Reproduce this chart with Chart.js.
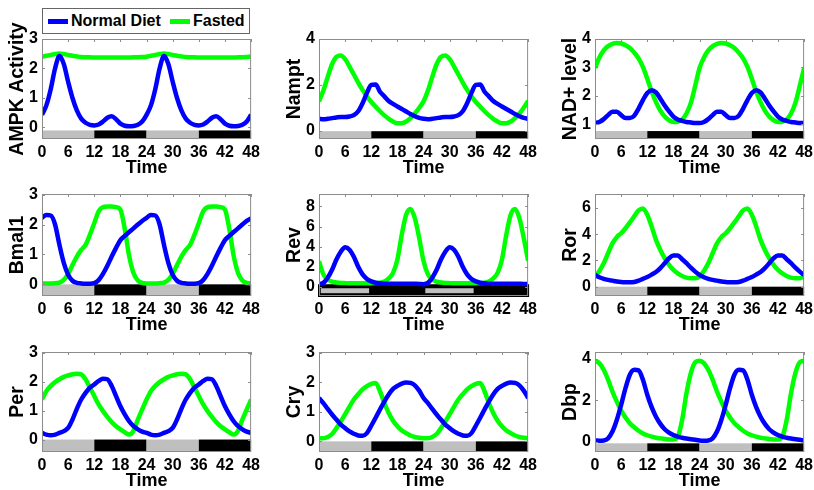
<!DOCTYPE html>
<html>
<head>
<meta charset="utf-8">
<script src="https://cdn.jsdelivr.net/npm/chart.js@4.4.1/dist/chart.umd.min.js"></script>
<style>
body { margin: 0; background: #fff; }
#wrap { position: relative; width: 814px; height: 490px; overflow: hidden; }
#wrap canvas { position: absolute; }
#legend { position: absolute; left: 42px; top: 8px; width: 208px; height: 26px; box-sizing: border-box;
  border: 1px solid #666; background: #fff; z-index: 2;
  font: bold 16px "Liberation Sans", Arial, sans-serif; color: #000; }
#legend .sw { position: absolute; top: 10px; width: 20px; height: 5px; }
#legend .tx { position: absolute; top: 3px; line-height: 18px; }
</style>
</head>
<body>
<div id="wrap">
  <div id="legend">
    <span class="sw" style="left:5px;background:#0000ff"></span><span class="tx" style="left:28px">Normal Diet</span>
    <span class="sw" style="left:127px;background:#00ff00"></span><span class="tx" style="left:150px">Fasted</span>
  </div>
</div>
<script>
// time axis (hours) and tick labels
var hours = [0,1,2,3,4,5,6,7,8,9,10,11,12,13,14,15,16,17,18,19,20,21,22,23,24,
  25,26,27,28,29,30,31,32,33,34,35,36,37,38,39,40,41,42,43,44,45,46,47,48];
var xTicks = [0,6,12,18,24,30,36,42,48];

// light / dark phases shown in the bar under each plot
var phaseStart = [0,12,24,36];
var phaseEnd = [12,24,36,48];
var phaseDark = [false,true,false,true];

// values (Normal Diet = blue, Fasted = green)
var ampkNormal = [0.43,0.75,1.3,2.0,2.42,2.15,1.55,1.0,0.58,0.3,0.16,0.09,0.07,0.1,0.2,0.33,0.38,0.28,0.13,0.06,0.04,0.05,0.09,0.2,
  0.43,0.75,1.3,2.0,2.42,2.15,1.55,1.0,0.58,0.3,0.16,0.09,0.07,0.1,0.2,0.33,0.38,0.28,0.13,0.06,0.04,0.05,0.09,0.2,0.43];
var ampkFasted = [2.40,2.43,2.46,2.49,2.51,2.49,2.46,2.43,2.41,2.39,2.38,2.38,2.37,2.37,2.37,2.37,2.37,2.37,2.37,2.37,2.37,2.38,2.38,2.39,
  2.40,2.43,2.46,2.49,2.51,2.49,2.46,2.43,2.41,2.39,2.38,2.38,2.37,2.37,2.37,2.37,2.37,2.37,2.37,2.37,2.37,2.38,2.38,2.39,2.40];
var namptNormal = [0.52,0.5,0.52,0.55,0.58,0.6,0.6,0.62,0.68,0.85,1.2,1.65,2.0,2.02,1.7,1.5,1.3,1.17,1.06,0.95,0.84,0.73,0.63,0.56,
  0.52,0.5,0.52,0.55,0.58,0.6,0.6,0.62,0.68,0.85,1.2,1.65,2.0,2.02,1.7,1.5,1.3,1.17,1.06,0.95,0.84,0.73,0.63,0.56,0.52];
var namptFasted = [1.28,1.75,2.35,2.9,3.22,3.28,3.12,2.8,2.45,2.1,1.78,1.5,1.25,1.05,0.85,0.67,0.52,0.4,0.33,0.33,0.4,0.55,0.75,1.0,
  1.28,1.75,2.35,2.9,3.22,3.28,3.12,2.8,2.45,2.1,1.78,1.5,1.25,1.05,0.85,0.67,0.52,0.4,0.33,0.33,0.4,0.55,0.75,1.0,1.3];
var nadNormal = [1.04,1.08,1.18,1.32,1.44,1.44,1.32,1.22,1.22,1.3,1.55,1.85,2.1,2.2,2.12,1.9,1.66,1.45,1.27,1.17,1.12,1.08,1.06,1.04,
  1.04,1.08,1.18,1.32,1.44,1.44,1.32,1.22,1.22,1.3,1.55,1.85,2.1,2.2,2.12,1.9,1.66,1.45,1.27,1.17,1.12,1.08,1.06,1.04,1.04];
var nadFasted = [2.98,3.35,3.6,3.75,3.83,3.86,3.84,3.78,3.68,3.52,3.32,3.02,2.6,2.15,1.78,1.48,1.27,1.14,1.08,1.09,1.17,1.38,1.75,2.35,
  2.98,3.35,3.6,3.75,3.83,3.86,3.84,3.78,3.68,3.52,3.32,3.02,2.6,2.15,1.78,1.48,1.27,1.14,1.08,1.09,1.17,1.38,1.75,2.35,2.98];
var bmalNormal = [2.22,2.32,2.3,2.0,1.32,0.72,0.32,0.12,0.05,0.03,0.02,0.02,0.04,0.14,0.35,0.62,0.93,1.22,1.48,1.62,1.75,1.87,2.0,2.12,
  2.22,2.32,2.3,2.0,1.32,0.72,0.32,0.12,0.05,0.03,0.02,0.02,0.04,0.14,0.35,0.62,0.93,1.22,1.48,1.62,1.75,1.87,2.0,2.12,2.2];
var bmalFasted = [0.03,0.03,0.03,0.04,0.06,0.15,0.35,0.65,0.93,1.15,1.32,1.66,2.05,2.44,2.58,2.6,2.6,2.58,2.5,1.85,0.95,0.38,0.13,0.05,
  0.03,0.03,0.03,0.04,0.06,0.15,0.35,0.65,0.93,1.15,1.32,1.66,2.05,2.44,2.58,2.6,2.6,2.58,2.5,1.85,0.95,0.38,0.13,0.05,0.03];
var revNormal = [0.28,0.4,0.92,1.7,2.73,3.5,3.95,3.7,3.0,2.0,1.25,0.8,0.55,0.42,0.36,0.33,0.32,0.32,0.32,0.32,0.32,0.32,0.31,0.3,
  0.28,0.4,0.92,1.7,2.73,3.5,3.95,3.7,3.0,2.0,1.25,0.8,0.55,0.42,0.36,0.33,0.32,0.32,0.32,0.32,0.32,0.32,0.31,0.3,0.28];
var revFasted = [2.57,1.25,0.75,0.52,0.45,0.4,0.38,0.37,0.37,0.37,0.37,0.37,0.37,0.38,0.42,0.55,0.85,1.4,2.73,5.2,7.17,7.75,6.84,4.87,
  2.57,1.25,0.75,0.52,0.45,0.4,0.38,0.37,0.37,0.37,0.37,0.37,0.37,0.38,0.42,0.55,0.85,1.4,2.73,5.2,7.17,7.75,6.84,4.87,2.6];
var rorNormal = [0.9,0.72,0.6,0.52,0.46,0.4,0.36,0.34,0.33,0.36,0.46,0.6,0.74,0.92,1.12,1.42,1.79,2.17,2.37,2.37,2.09,1.79,1.45,1.15,
  0.9,0.72,0.6,0.52,0.46,0.4,0.36,0.34,0.33,0.36,0.46,0.6,0.74,0.92,1.12,1.42,1.79,2.17,2.37,2.37,2.09,1.79,1.45,1.15,0.9];
var rorFasted = [0.77,1.2,1.79,2.55,3.3,3.78,4.08,4.46,4.9,5.36,5.82,5.97,5.48,4.6,3.57,2.8,2.17,1.66,1.28,1.02,0.82,0.69,0.64,0.65,
  0.77,1.2,1.79,2.55,3.3,3.78,4.08,4.46,4.9,5.36,5.82,5.97,5.48,4.6,3.57,2.8,2.17,1.66,1.28,1.02,0.82,0.69,0.64,0.65,0.77];
var perNormal = [0.23,0.17,0.15,0.17,0.23,0.29,0.4,0.69,1.06,1.38,1.61,1.79,1.9,2.02,2.1,2.08,1.85,1.5,1.15,0.87,0.63,0.46,0.35,0.27,
  0.23,0.17,0.15,0.17,0.23,0.29,0.4,0.69,1.06,1.38,1.61,1.79,1.9,2.02,2.1,2.08,1.85,1.5,1.15,0.87,0.63,0.46,0.35,0.27,0.23];
var perFasted = [1.38,1.67,1.85,1.98,2.08,2.16,2.21,2.25,2.27,2.25,2.08,1.79,1.5,1.21,0.98,0.78,0.6,0.46,0.35,0.25,0.17,0.3,0.69,1.04,
  1.38,1.67,1.85,1.98,2.08,2.16,2.21,2.25,2.27,2.25,2.08,1.79,1.5,1.21,0.98,0.78,0.6,0.46,0.35,0.25,0.17,0.3,0.69,1.04,1.38];
var cryNormal = [1.47,1.3,1.1,0.91,0.74,0.57,0.45,0.34,0.26,0.2,0.19,0.28,0.53,0.8,1.08,1.35,1.59,1.78,1.88,1.96,2.0,1.98,1.9,1.72,
  1.47,1.3,1.1,0.91,0.74,0.57,0.45,0.34,0.26,0.2,0.19,0.28,0.53,0.8,1.08,1.35,1.59,1.78,1.88,1.96,2.0,1.98,1.9,1.72,1.47];
var cryFasted = [0.11,0.11,0.15,0.25,0.45,0.67,0.92,1.18,1.42,1.6,1.76,1.87,1.95,1.98,1.7,1.3,0.96,0.7,0.51,0.37,0.28,0.2,0.15,0.12,
  0.11,0.11,0.15,0.25,0.45,0.67,0.92,1.18,1.42,1.6,1.76,1.87,1.95,1.98,1.7,1.3,0.96,0.7,0.51,0.37,0.28,0.2,0.15,0.12,0.11];
var dbpNormal = [0.06,0.05,0.06,0.16,0.49,1.05,1.78,2.59,3.24,3.48,3.45,3.0,2.27,1.67,1.21,0.86,0.6,0.44,0.32,0.24,0.19,0.15,0.12,0.09,
  0.06,0.05,0.06,0.16,0.49,1.05,1.78,2.59,3.24,3.48,3.45,3.0,2.27,1.67,1.21,0.86,0.6,0.44,0.32,0.24,0.19,0.15,0.12,0.09,0.06];
var dbpFasted = [3.92,3.8,3.48,3.0,2.43,1.94,1.5,1.17,0.89,0.7,0.53,0.4,0.31,0.24,0.19,0.16,0.13,0.11,0.1,0.24,1.05,2.35,3.32,3.84,
  3.92,3.8,3.48,3.0,2.43,1.94,1.5,1.17,0.89,0.7,0.53,0.4,0.31,0.24,0.19,0.16,0.13,0.11,0.1,0.24,1.05,2.35,3.32,3.84,3.92];

// y tick labels per panel
var ampkTicks = [0,1,2,3];
var namptTicks = [0,2,4];
var nadTicks = [1,2,3,4];
var bmalTicks = [0,1,2,3];
var revTicks = [0,2,4,6,8];
var rorTicks = [0,2,4,6];
var perTicks = [0,1,2,3];
var cryTicks = [0,1,2,3];
var dbpTicks = [0,2,4];

var FONT = '"Liberation Sans", Arial, sans-serif';
var colLeft = [42, 319, 595];
var rowTop = [39, 194, 352];
var rowBottom = [139, 296, 452];
var plotW = 210, yAxisW = 42, padTop = 22, padRight = 12, xAxisH = 38;

var panels = [
  { title: 'AMPK Activity', normal: ampkNormal, fasted: ampkFasted, ticks: ampkTicks, min: -0.39, max: 3, barTop: -0.1 },
  { title: 'Nampt', normal: namptNormal, fasted: namptFasted, ticks: namptTicks, min: -0.36, max: 4, barTop: -0.02 },
  { title: 'NAD+ level', normal: nadNormal, fasted: nadFasted, ticks: nadTicks, min: 0.48, max: 4, barTop: 0.76 },
  { title: 'Bmal1', normal: bmalNormal, fasted: bmalFasted, ticks: bmalTicks, min: -0.39, max: 3.02, barTop: 0 },
  { title: 'Rev', normal: revNormal, fasted: revFasted, ticks: revTicks, min: -0.9, max: 9.24, barTop: 0.27, framed: true },
  { title: 'Ror', normal: rorNormal, fasted: rorFasted, ticks: rorTicks, min: -0.71, max: 7.07, barTop: 0 },
  { title: 'Per', normal: perNormal, fasted: perFasted, ticks: perTicks, min: -0.43, max: 3.02, barTop: 0 },
  { title: 'Cry', normal: cryNormal, fasted: cryFasted, ticks: cryTicks, min: -0.36, max: 3.03, barTop: 0 },
  { title: 'Dbp', normal: dbpNormal, fasted: dbpFasted, ticks: dbpTicks, min: -0.5, max: 4.34, barTop: -0.08 }
];

function toXY(vals) {
  return vals.map(function (v, i) { return { x: hours[i], y: v }; });
}

var boxPlugin = {
  id: 'box',
  beforeDatasetsDraw: function (chart, args, opts) {
    var ctx = chart.ctx, xs = chart.scales.x, ys = chart.scales.y;
    var top = ys.getPixelForValue(opts.barTop), bottom = chart.chartArea.bottom;
    ctx.save();
    if (opts.framed) {
      // black band with light periods drawn as inset strips
      ctx.fillStyle = '#000';
      ctx.fillRect(xs.left - 1, top, xs.width + 2, bottom - top + 1);
      var gTop = ys.getPixelForValue(-0.13), gBot = ys.getPixelForValue(-0.62);
      ctx.fillStyle = '#bfbfbf';
      for (var j = 0; j < phaseStart.length; j++) {
        if (phaseDark[j]) continue;
        var a = xs.getPixelForValue(phaseStart[j] + 0.4), b = xs.getPixelForValue(phaseEnd[j] - 0.5);
        ctx.fillRect(a, gTop, b - a, gBot - gTop);
      }
    } else {
      for (var i = 0; i < phaseStart.length; i++) {
        var x0 = xs.getPixelForValue(phaseStart[i]), x1 = xs.getPixelForValue(phaseEnd[i]);
        ctx.fillStyle = phaseDark[i] ? '#000' : '#bfbfbf';
        ctx.fillRect(x0, top, x1 - x0, bottom - top);
      }
    }
    ctx.restore();
  },
  afterDraw: function (chart) {
    var ctx = chart.ctx, a = chart.chartArea, xs = chart.scales.x, ys = chart.scales.y;
    ctx.save();
    ctx.strokeStyle = '#8c8c8c';
    ctx.lineWidth = 1;
    ctx.strokeRect(a.left + 0.5, a.top + 0.5, a.right - a.left - 1, a.bottom - a.top - 1);
    ctx.beginPath();
    xs.ticks.forEach(function (t) {
      var px = Math.round(xs.getPixelForValue(t.value)) + 0.5;
      ctx.moveTo(px, a.top); ctx.lineTo(px, a.top + 3);
    });
    ys.ticks.forEach(function (t) {
      var py = Math.round(ys.getPixelForValue(t.value)) + 0.5;
      ctx.moveTo(a.left, py); ctx.lineTo(a.left + 3, py);
      ctx.moveTo(a.right, py); ctx.lineTo(a.right - 3, py);
    });
    ctx.stroke();
    ctx.restore();
  }
};

var wrap = document.getElementById('wrap');

panels.forEach(function (p, k) {
  var col = k % 3, row = Math.floor(k / 3);
  var plotH = rowBottom[row] - rowTop[row];
  var canvas = document.createElement('canvas');
  canvas.width = yAxisW + plotW + padRight;
  canvas.height = padTop + plotH + xAxisH;
  canvas.style.left = (colLeft[col] - yAxisW) + 'px';
  canvas.style.top = (rowTop[row] - padTop) + 'px';
  wrap.appendChild(canvas);

  new Chart(canvas, {
    type: 'line',
    data: {
      datasets: [
        { label: 'Normal Diet', data: toXY(p.normal), borderColor: '#0000ff', borderWidth: 4.5,
          pointRadius: 0, cubicInterpolationMode: 'monotone', fill: false },
        { label: 'Fasted', data: toXY(p.fasted), borderColor: '#00ff00', borderWidth: 4.5,
          pointRadius: 0, cubicInterpolationMode: 'monotone', fill: false }
      ]
    },
    options: {
      responsive: false,
      animation: false,
      devicePixelRatio: 1,
      layout: { padding: { top: padTop, right: padRight, left: 0, bottom: 0 } },
      plugins: {
        legend: { display: false },
        tooltip: { enabled: false },
        box: { barTop: p.barTop, framed: !!p.framed }
      },
      scales: {
        x: {
          type: 'linear', min: 0, max: 48,
          grid: { display: false, drawTicks: false },
          border: { display: false },
          afterBuildTicks: function (s) { s.ticks = xTicks.map(function (v) { return { value: v }; }); },
          afterFit: function (s) { s.height = xAxisH; },
          ticks: { padding: 4, color: '#000', autoSkip: false, maxRotation: 0,
            font: { family: FONT, size: 16, weight: 'bold' } },
          title: { display: true, text: 'Time', color: '#000', padding: { top: 0, bottom: 0 },
            font: { family: FONT, size: 18, weight: 'bold', lineHeight: 1 } }
        },
        y: {
          type: 'linear', min: p.min, max: p.max,
          grid: { display: false, drawTicks: false },
          border: { display: false },
          afterBuildTicks: function (s) { s.ticks = p.ticks.map(function (v) { return { value: v }; }); },
          afterFit: function (s) { s.width = yAxisW; },
          ticks: { padding: 4, color: '#000', font: { family: FONT, size: 16, weight: 'bold' } },
          title: { display: true, text: p.title, color: '#000', padding: { top: 7.5, bottom: 0 },
            font: { family: FONT, size: 19.5, weight: 'bold', lineHeight: 1 } }
        }
      }
    },
    plugins: [boxPlugin]
  });
});
</script>
</body>
</html>
